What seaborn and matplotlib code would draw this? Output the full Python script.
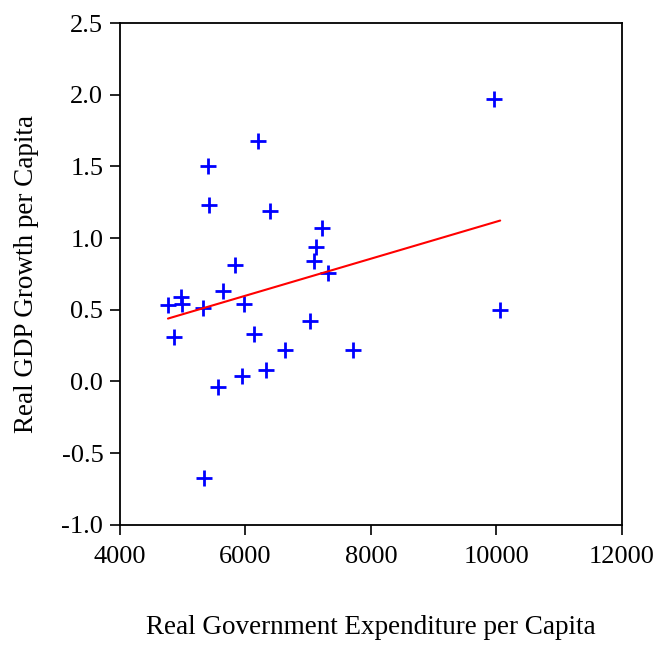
import numpy as np
import pandas as pd
import matplotlib
matplotlib.use("Agg")
import matplotlib.pyplot as plt
import seaborn as sns

# data
gov_exp = [4765, 4860, 4970, 4990, 5320, 5340, 5400, 5420, 5560, 5640,
           5830, 5940, 5975, 6135, 6195, 6325, 6390, 6630, 7030, 7090,
           7120, 7220, 7315, 7710, 9960, 10060]
gdp_growth = [0.53, 0.31, 0.59, 0.54, 0.51, -0.67, 1.50, 1.23, -0.04, 0.63,
              0.81, 0.04, 0.54, 0.33, 1.68, 0.08, 1.19, 0.22, 0.42, 0.84,
              0.94, 1.07, 0.76, 0.22, 1.97, 0.50]

df = pd.DataFrame({"x": gov_exp, "y": gdp_growth})

sns.set_style("white", {"text.color": "black", "axes.labelcolor": "black",
                        "xtick.color": "black", "ytick.color": "black"})
plt.rcParams['font.family'] = ['Liberation Serif', 'DejaVu Serif']

fig = plt.figure(figsize=(6.57, 6.48), dpi=100)
ax = fig.add_axes([0.1826, 0.190, 0.764, 0.7745])

sns.regplot(data=df, x="x", y="y", ax=ax, ci=None, truncate=True,
            marker="+",
            scatter_kws=dict(color="blue", s=120, linewidths=2, alpha=1),
            line_kws=dict(color="red", lw=1.5))

ax.set_xlim(4000, 12000)
ax.set_ylim(-1.0, 2.5)
ax.set_xticks([4000, 6000, 8000, 10000, 12000])
ax.set_yticks([-1.0, -0.5, 0.0, 0.5, 1.0, 1.5, 2.0, 2.5])
ax.set_yticklabels(["-1.0", "-0.5", "0.0", "0.5", "1.0", "1.5", "2.0", "2.5"])
ax.tick_params(direction="out", length=7, width=1.2, labelsize=19, color="black",
               labelcolor="black", left=True, bottom=True)
ax.tick_params(axis="x", pad=8)
ax.tick_params(axis="y", pad=5)
for side in ax.spines:
    ax.spines[side].set_color("black")
    ax.spines[side].set_linewidth(1.3)

ax.set_xlabel("Real Government Expenditure per Capita", fontsize=19.5,
              labelpad=34, color="black")
ax.set_ylabel("Real GDP Growth per Capita", fontsize=19.5, labelpad=16,
              color="black")

fig.savefig("out.png", dpi=100)
